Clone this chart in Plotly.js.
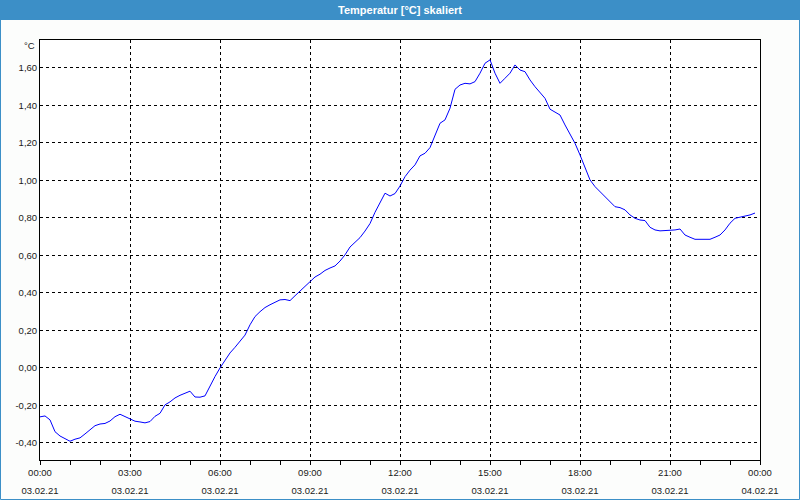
<!DOCTYPE html>
<html>
<head>
<meta charset="utf-8">
<script src="https://cdn.plot.ly/plotly-3.0.1.min.js"></script>
<style>
html,body{margin:0;padding:0;background:#fcfdfc;}
#chart{width:800px;height:500px;}
</style>
</head>
<body>
<div id="chart"></div>
<script>
const day = "2021-02-03";
const times = [
"00:00","00:10","00:20","00:30","00:40","00:50","01:00","01:10","01:20","01:30","01:40","01:50",
"02:00","02:10","02:20","02:30","02:40","02:50","03:00","03:10","03:20","03:30","03:40","03:50",
"04:00","04:10","04:20","04:30","04:40","04:50","05:00","05:10","05:20","05:30","05:40","05:50",
"06:00","06:10","06:20","06:30","06:40","06:50","07:00","07:10","07:20","07:30","07:40","07:50",
"08:00","08:10","08:20","08:30","08:40","08:50","09:00","09:10","09:20","09:30","09:40","09:50",
"10:00","10:10","10:20","10:30","10:40","10:50","11:00","11:10","11:20","11:30","11:40","11:50",
"12:00","12:10","12:20","12:30","12:40","12:50","13:00","13:10","13:20","13:30","13:40","13:50",
"14:00","14:10","14:20","14:30","14:40","14:50","15:00","15:10","15:20","15:30","15:40","15:50",
"16:00","16:10","16:20","16:30","16:40","16:50","17:00","17:10","17:20","17:30","17:40","17:50",
"18:00","18:10","18:20","18:30","18:40","18:50","19:00","19:10","19:20","19:30","19:40","19:50",
"20:00","20:10","20:20","20:30","20:40","20:50","21:00","21:10","21:20","21:30","21:40","21:50",
"22:00","22:10","22:20","22:30","22:40","22:50","23:00","23:10","23:20","23:30","23:40","23:50"
];
const temperature = [
-0.261,-0.256,-0.277,-0.340,-0.363,-0.379,-0.391,-0.380,-0.373,-0.352,-0.331,-0.308,
-0.299,-0.296,-0.283,-0.260,-0.247,-0.260,-0.272,-0.284,-0.288,-0.293,-0.286,-0.258,
-0.242,-0.197,-0.181,-0.160,-0.146,-0.133,-0.124,-0.155,-0.156,-0.149,-0.096,-0.046,
0.000,0.040,0.080,0.110,0.140,0.175,0.230,0.274,0.300,0.322,0.337,0.350,
0.363,0.365,0.359,0.385,0.410,0.440,0.465,0.485,0.500,0.520,0.533,0.544,
0.570,0.603,0.645,0.670,0.695,0.730,0.770,0.830,0.885,0.932,0.917,0.930,
0.970,1.020,1.055,1.083,1.131,1.145,1.175,1.243,1.305,1.323,1.385,1.486,
1.509,1.518,1.515,1.527,1.572,1.625,1.643,1.572,1.518,1.545,1.572,1.616,
1.589,1.580,1.536,1.500,1.468,1.438,1.380,1.364,1.349,1.296,1.243,1.198,
1.136,1.065,1.003,0.967,0.940,0.910,0.882,0.860,0.855,0.843,0.816,0.798,
0.789,0.786,0.750,0.736,0.731,0.732,0.734,0.736,0.741,0.709,0.697,0.686,
0.686,0.686,0.686,0.697,0.709,0.736,0.772,0.798,0.804,0.811,0.816,0.826
];
const yTickVals = [-0.4,-0.2,0,0.2,0.4,0.6,0.8,1.0,1.2,1.4,1.6];
const yTickLabels = ["-0,40","-0,20","0,00","0,20","0,40","0,60","0,80","1,00","1,20","1,40","1,60"];
const xStart = "2021-02-03 00:00";
const xEnd = "2021-02-04 00:00";
const chartTitle = "Temperatur [°C] skaliert";
const unitLabel = "°C";

const xs = times.map(t => day + " " + t);
const tickFont = {family: "Liberation Sans, Arial, sans-serif", size: 9.5, color: "#1a1a1a"};
const blue = "#3c8fc7";

const traces = [
  {x: xs, y: temperature, type: "scatter", mode: "lines",
   line: {color: "#0000ff", width: 1}, hoverinfo: "x+y", showlegend: false},
  {x: [xStart, xEnd], y: [null, null], xaxis: "x2", type: "scatter", mode: "lines",
   showlegend: false, hoverinfo: "skip"}
];

const layout = {
  width: 800, height: 500,
  margin: {l: 40, r: 40, t: 40, b: 40},
  paper_bgcolor: "#fcfdfc",
  plot_bgcolor: "#ffffff",
  showlegend: false,
  xaxis: {
    type: "date", range: [xStart, xEnd],
    tick0: xStart, dtick: 10800000, tickformat: "%H:%M",
    ticks: "outside", ticklen: 4, tickcolor: "#000", tickwidth: 1,
    minor: {dtick: 3600000, ticks: "outside", ticklen: 4, tickcolor: "#000", showgrid: false},
    showgrid: true, gridcolor: "#000", gridwidth: 1, griddash: "3px,3px",
    showline: true, linecolor: "#000", linewidth: 1, mirror: true,
    zeroline: false, tickfont: tickFont, fixedrange: true
  },
  xaxis2: {
    type: "date", range: [xStart, xEnd], overlaying: "x", anchor: "y", side: "bottom",
    tick0: xStart, dtick: 10800000, tickformat: "%d.%m.%y",
    ticks: "", showgrid: false, showline: false, zeroline: false,
    ticklabelstandoff: 23, tickfont: tickFont, fixedrange: true
  },
  yaxis: {
    range: [-0.491, 1.749],
    tickmode: "array", tickvals: yTickVals, ticktext: yTickLabels,
    ticks: "", showgrid: true, gridcolor: "#000", gridwidth: 1, griddash: "3px,3px",
    showline: true, linecolor: "#000", linewidth: 1, mirror: true,
    zeroline: false, tickfont: tickFont, fixedrange: true
  },
  shapes: [
    {type: "rect", xref: "paper", yref: "paper",
     x0: -40/720, x1: 760/720, y0: 440/420, y1: 460/420,
     fillcolor: blue, line: {width: 0}, layer: "below"},
    {type: "rect", xref: "paper", yref: "paper",
     x0: -39.5/720, x1: 759.5/720, y0: -39.5/420, y1: 460/420,
     fillcolor: "rgba(0,0,0,0)", line: {color: blue, width: 1}, layer: "above"}
  ],
  annotations: [
    {text: "<b>" + chartTitle + "</b>", xref: "paper", yref: "paper",
     x: 0.5, y: 450/420, xanchor: "center", yanchor: "middle", showarrow: false,
     font: {family: "Liberation Sans, Arial, sans-serif", size: 11, color: "#ffffff"}},
    {text: unitLabel, xref: "paper", yref: "paper",
     x: 0, y: 1, xanchor: "right", yanchor: "middle", xshift: -3, yshift: -5, showarrow: false,
     font: tickFont}
  ]
};

Plotly.newPlot("chart", traces, layout, {displayModeBar: false, staticPlot: true});
</script>
</body>
</html>
